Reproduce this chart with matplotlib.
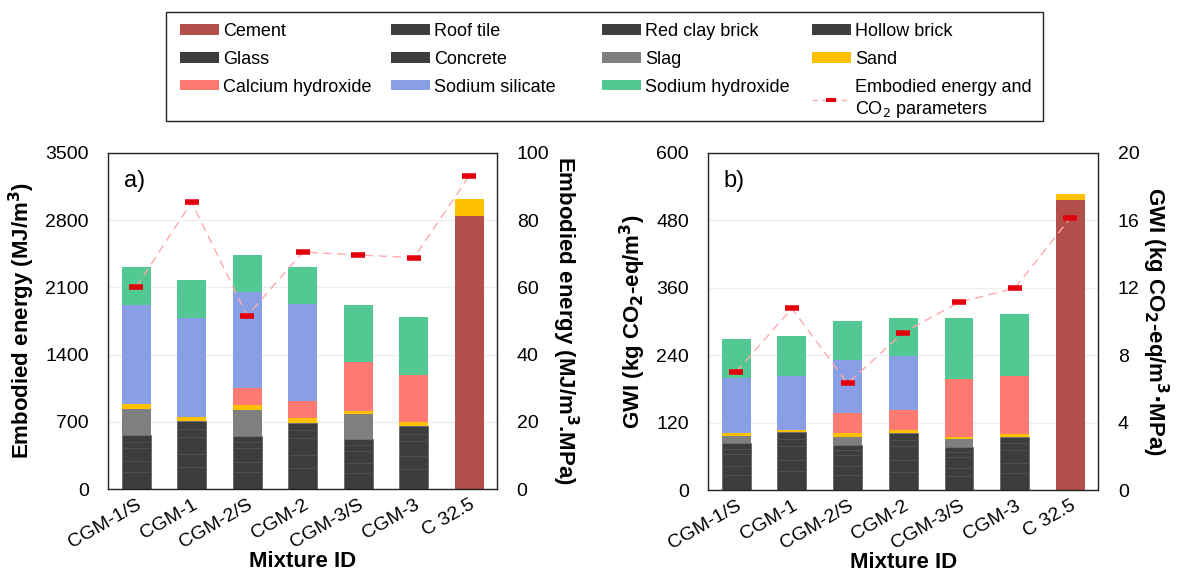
import matplotlib
matplotlib.use("Agg")
import matplotlib.pyplot as plt
from matplotlib.lines import Line2D
from matplotlib.patches import Patch, Rectangle
import numpy as np

plt.rcParams['font.family'] = ['Liberation Sans', 'DejaVu Sans']

mixtures = ["CGM-1/S", "CGM-1", "CGM-2/S", "CGM-2", "CGM-3/S", "CGM-3", "C 32.5"]
components = ["Cement", "Roof tile", "Red clay brick", "Hollow brick", "Glass",
              "Concrete", "Slag", "Sand", "Calcium hydroxide", "Sodium silicate",
              "Sodium hydroxide"]
colors = ["#b44e4b", "#3d3d3d", "#3d3d3d", "#3d3d3d", "#3d3d3d", "#3d3d3d",
          "#7f7f7f", "#ffc000", "#ff7b72", "#889fe6", "#52c993"]

# Embodied energy contributions (MJ/m3)
ee_cement = [0, 0, 0, 0, 0, 0, 2838]
ee_roof_tile = [180, 227, 177, 222, 168, 210, 0]
ee_red_clay_brick = [111, 140, 109, 137, 103, 129, 0]
ee_hollow_brick = [138, 174, 137, 171, 129, 162, 0]
ee_glass = [65, 82, 64, 80, 60, 76, 0]
ee_concrete = [65, 81, 64, 80, 60, 75, 0]
ee_slag = [277, 0, 271, 0, 257, 0, 0]
ee_sand = [48, 48, 49, 49, 38, 42, 183]
ee_calcium_hydroxide = [0, 0, 177, 173, 503, 496, 0]
ee_sodium_silicate = [1031, 1030, 1005, 1010, 0, 0, 0]
ee_sodium_hydroxide = [392, 389, 385, 385, 597, 596, 0]
ee_per_mpa = [60.0, 85.3, 51.5, 70.5, 69.6, 68.8, 93.2]

# Global warming impact contributions (kg CO2-eq/m3)
gwi_cement = [0, 0, 0, 0, 0, 0, 516]
gwi_roof_tile = [27, 33, 26, 32.5, 24.5, 30, 0]
gwi_red_clay_brick = [16.5, 20.5, 16, 20, 15, 18.6, 0]
gwi_hollow_brick = [20.5, 25.5, 20, 25, 19, 23.3, 0]
gwi_glass = [9.5, 12, 9.3, 11.7, 8.75, 10.9, 0]
gwi_concrete = [9.5, 12, 9.3, 11.6, 8.75, 10.9, 0]
gwi_slag = [13.6, 0, 14.2, 0, 14, 0, 0]
gwi_sand = [5.4, 4, 6, 5.2, 4.8, 5.3, 10.5]
gwi_calcium_hydroxide = [0, 0, 36.2, 36.9, 103.2, 104, 0]
gwi_sodium_silicate = [97, 96, 94, 94.9, 0, 0, 0]
gwi_sodium_hydroxide = [69.6, 71.5, 69.6, 68.2, 108, 109.5, 0]
gwi_per_mpa = [7.0, 10.77, 6.32, 9.33, 11.13, 11.96, 16.14]

ee_stack = [ee_cement, ee_roof_tile, ee_red_clay_brick, ee_hollow_brick, ee_glass,
            ee_concrete, ee_slag, ee_sand, ee_calcium_hydroxide,
            ee_sodium_silicate, ee_sodium_hydroxide]
gwi_stack = [gwi_cement, gwi_roof_tile, gwi_red_clay_brick, gwi_hollow_brick,
             gwi_glass, gwi_concrete, gwi_slag, gwi_sand, gwi_calcium_hydroxide,
             gwi_sodium_silicate, gwi_sodium_hydroxide]

LINE_COLOR = "#ffaaaa"
MARK_COLOR = "#e3000b"
DARK = "#3d3d3d"

W, H = 1182, 581
fig = plt.figure(figsize=(W / 100, H / 100), dpi=100)


def draw_panel(rect, stack, ratio, ylim, yticks, y2lim, y2ticks,
               ylabel, y2label, tag):
    ax = fig.add_axes(rect)
    x = np.arange(len(mixtures))
    bottom = np.zeros(len(mixtures))
    for vals, col in zip(stack, colors):
        vals = np.asarray(vals, dtype=float)
        keep = vals > 0
        dark = col == DARK
        ax.bar(x[keep], vals[keep], 0.52, bottom=bottom[keep], color=col,
               edgecolor="#4b4b4b" if dark else col,
               linewidth=0.4 if dark else 0, zorder=2)
        bottom += vals
    ax.set_xlim(-0.5, len(mixtures) - 0.5)
    ax.set_ylim(*ylim)
    ax.set_yticks(yticks)
    ax.yaxis.grid(True, color="#eeeeee", linewidth=1.0, zorder=0)
    ax.set_axisbelow(True)
    ax.set_xticks(x)
    ax.set_xticklabels(mixtures, rotation=30, ha="right",
                       rotation_mode="anchor", fontsize=14)
    ax.tick_params(axis="both", length=0, labelsize=14)
    ax.tick_params(axis="x", pad=5)
    ax.tick_params(axis="y", pad=14)
    for s in ax.spines.values():
        s.set_color("#222222")
        s.set_linewidth(1.0)
    ax.set_ylabel(ylabel, fontsize=16, fontweight="bold", labelpad=6)
    ax.set_xlabel("Mixture ID", fontsize=16, fontweight="bold", labelpad=0)
    ax.text(0.04, 0.95, tag, transform=ax.transAxes, fontsize=17,
            va="top", ha="left")

    ax2 = ax.twinx()
    ax2.plot(x, ratio, linestyle=(0, (6, 4)), color=LINE_COLOR, linewidth=1.0,
             zorder=3)
    ax2.plot(x, ratio, linestyle="none", marker="_", markersize=10,
             markeredgewidth=4, color=MARK_COLOR, zorder=4)
    ax2.set_ylim(*y2lim)
    ax2.set_yticks(y2ticks)
    ax2.tick_params(axis="y", length=0, labelsize=14, pad=14)
    for s in ax2.spines.values():
        s.set_visible(False)
    ax2.set_ylabel(y2label, fontsize=16, fontweight="bold", rotation=270,
                   labelpad=22)
    return ax, ax2


draw_panel([0.0916, 0.1583, 0.3291, 0.5788], ee_stack, ee_per_mpa,
           (0, 3500), [0, 700, 1400, 2100, 2800, 3500],
           (0, 100), [0, 20, 40, 60, 80, 100],
           "Embodied energy (MJ/m$^\\mathbf{3}$)",
           "Embodied energy (MJ/m$^\\mathbf{3}$.MPa)", "a)")

draw_panel([0.5992, 0.1566, 0.3300, 0.5806], gwi_stack, gwi_per_mpa,
           (0, 600), [0, 120, 240, 360, 480, 600],
           (0, 20), [0, 4, 8, 12, 16, 20],
           "GWI (kg CO$_\\mathbf{2}$-eq/m$^\\mathbf{3}$)",
           "GWI (kg CO$_\\mathbf{2}$-eq/m$^\\mathbf{3}$$\\mathbf{\\cdot}$MPa)", "b)")

# Shared legend: a framed box holding four equally spaced columns
handles = [Patch(facecolor=c, edgecolor="none") for c in colors]
labels = list(components)
handles.append(Line2D([0], [0], linestyle=(0, (4, 3)), color=LINE_COLOR,
                      linewidth=1.0, marker="_", markersize=7,
                      markeredgewidth=3, markeredgecolor=MARK_COLOR))
labels.append("Embodied energy and\nCO$_2$ parameters")

box_left, box_right, box_top, box_bottom = 166, 1043, 12, 121
fig.patches.append(Rectangle((box_left / W, 1 - box_bottom / H),
                             (box_right - box_left) / W,
                             (box_bottom - box_top) / H,
                             transform=fig.transFigure, fill=False,
                             edgecolor="#222222", linewidth=1.0))

ncol = 4
col_x = [180, 391, 602, 812]
for c in range(ncol):
    idx = list(range(c, len(labels), ncol))
    fig.legend([handles[i] for i in idx], [labels[i] for i in idx],
               loc="upper left",
               bbox_to_anchor=(col_x[c] / W, 1 - 23 / H),
               fontsize=13, frameon=False, handlelength=2.15,
               handleheight=0.5, handletextpad=0.25, labelspacing=0.6,
               borderpad=0, borderaxespad=0)

fig.savefig("out.png", dpi=100, facecolor="white")
